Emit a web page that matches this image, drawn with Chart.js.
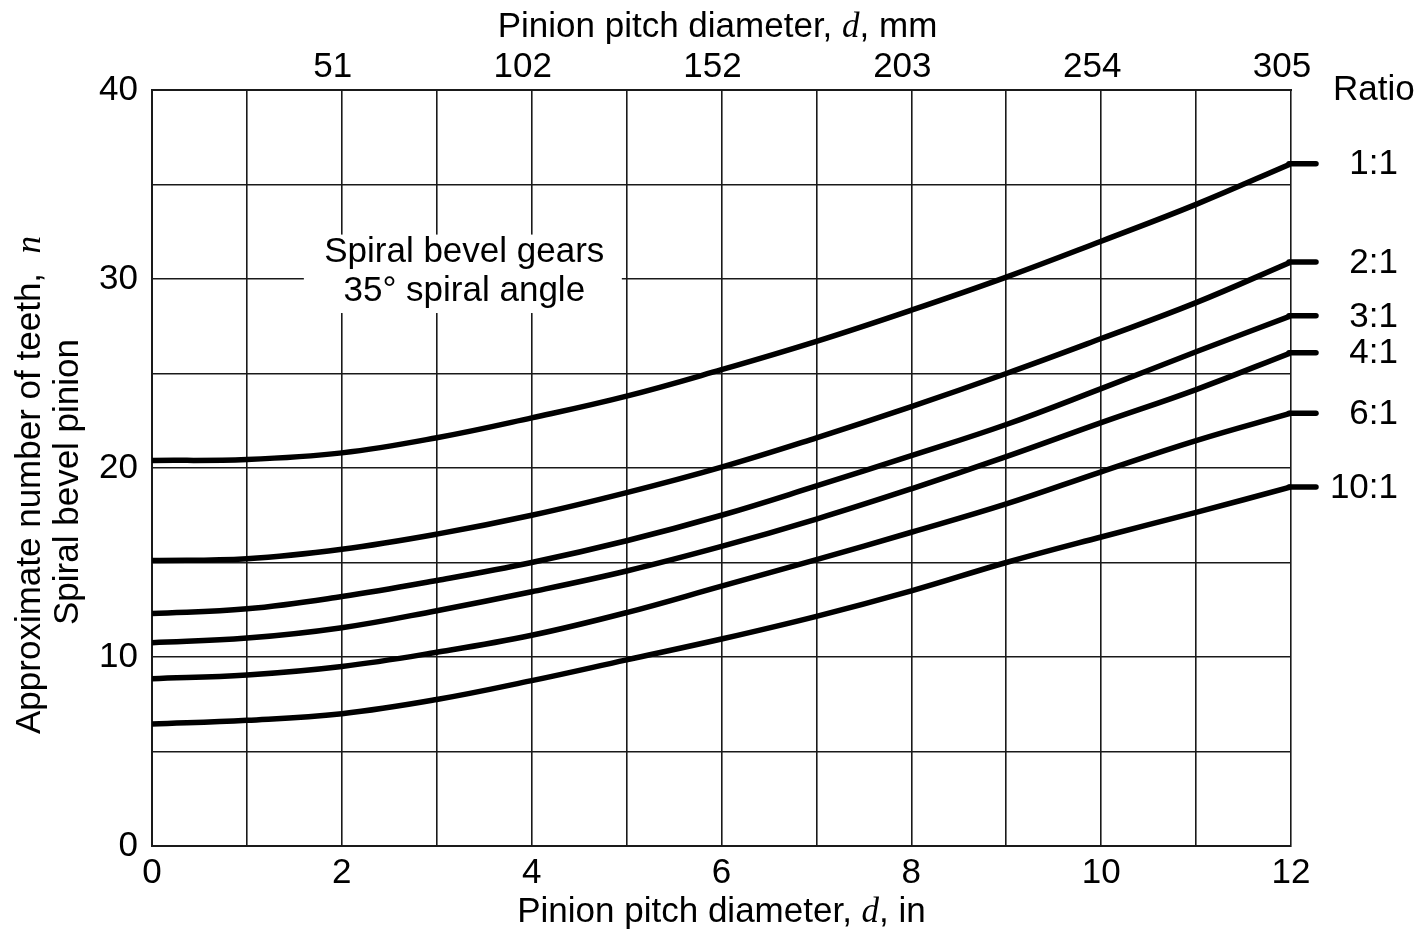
<!DOCTYPE html>
<html>
<head>
<meta charset="utf-8">
<title>Spiral bevel pinion teeth</title>
<script src="https://cdn.jsdelivr.net/npm/chart.js@4.4.1/dist/chart.umd.min.js"></script>
<style>
  html, body { margin: 0; padding: 0; background: #fff; }
  #wrap { width: 1425px; height: 930px; }
</style>
</head>
<body>
<div id="wrap"><canvas id="gearChart" width="1425" height="930"></canvas></div>
<script>
// pinion pitch diameter, in
const diameterIn = [0, 1, 2, 3, 4, 5, 6, 7, 8, 9, 10, 11, 12];

const ratioLabels = ["1:1", "2:1", "3:1", "4:1", "6:1", "10:1"];

// approximate number of teeth for each gear ratio
const teeth1to1 = [20.4, 20.45, 20.8, 21.6, 22.65, 23.8, 25.2, 26.7, 28.35, 30.1, 32.0, 33.95, 36.1];
const teeth2to1 = [15.1, 15.2, 15.7, 16.5, 17.5, 18.7, 20.05, 21.6, 23.25, 25.0, 26.85, 28.75, 30.9];
const teeth3to1 = [12.3, 12.55, 13.2, 14.05, 15.0, 16.15, 17.5, 19.05, 20.65, 22.3, 24.2, 26.15, 28.05];
const teeth4to1 = [10.75, 11.0, 11.55, 12.45, 13.45, 14.55, 15.85, 17.3, 18.9, 20.6, 22.4, 24.15, 26.1];
const teeth6to1 = [8.85, 9.05, 9.5, 10.25, 11.15, 12.35, 13.75, 15.15, 16.6, 18.1, 19.8, 21.45, 22.9];
const teeth10to1 = [6.45, 6.65, 7.0, 7.75, 8.75, 9.85, 10.95, 12.15, 13.5, 15.0, 16.35, 17.65, 19.0];

// tick labels
const xTickLabels = [0, 2, 4, 6, 8, 10, 12];
const yTickLabels = [0, 10, 20, 30, 40];
const mmTickInches = [2, 4, 6, 8, 10, 12];
const mmTickLabels = ["51", "102", "152", "203", "254", "305"];

const noteLines = ["Spiral bevel gears", "35\u00b0 spiral angle"];

const allTeeth = [teeth1to1, teeth2to1, teeth3to1, teeth4to1, teeth6to1, teeth10to1];

/* ---------- helpers ---------- */
const SANS = '"Liberation Sans", Arial, Helvetica, sans-serif';
const FS = 35;
const sansFont = `${FS}px ${SANS}`;
const italicFont = `italic ${FS}px "Liberation Serif", "DejaVu Serif", serif`;

// draws mixed sans / italic serif text centred on x, on a given baseline
function drawRich(ctx, parts, cx, baseline) {
    ctx.textBaseline = "alphabetic";
    ctx.textAlign = "left";
    let total = 0;
    parts.forEach(p => { ctx.font = p.font; total += ctx.measureText(p.text).width; });
    let x = cx - total / 2;
    parts.forEach(p => {
        ctx.font = p.font;
        ctx.fillText(p.text, x, baseline);
        x += ctx.measureText(p.text).width;
    });
}

const gearDecor = {
    id: "gearDecor",
    beforeDatasetsDraw(chart) {
        // white box behind the note so the grid is hidden there
        const { ctx, scales: { x, y } } = chart;
        const x0 = x.getPixelForValue(1.6), x1 = x.getPixelForValue(4.95);
        const y0 = y.getPixelForValue(32.35), y1 = y.getPixelForValue(28.2);
        ctx.save();
        ctx.fillStyle = "#fff";
        ctx.fillRect(x0, y0, x1 - x0, y1 - y0);
        ctx.fillStyle = "#000";
        ctx.font = sansFont;
        ctx.textAlign = "center";
        ctx.textBaseline = "alphabetic";
        ctx.fillText(noteLines[0], x.getPixelForValue(3.29), y.getPixelForValue(30.88));
        ctx.fillText(noteLines[1], x.getPixelForValue(3.29), y.getPixelForValue(28.82));
        ctx.restore();
    },
    afterDraw(chart) {
        const { ctx, chartArea: area, scales: { y } } = chart;
        ctx.save();
        ctx.fillStyle = "#000";
        ctx.strokeStyle = "#000";

        // stubs + ratio labels at right
        ctx.lineWidth = 5.5;
        ctx.lineCap = "round";
        ctx.font = sansFont;
        chart.data.datasets.forEach(ds => {
            const last = ds.data[ds.data.length - 1];
            const py = y.getPixelForValue(last.y);
            ctx.beginPath();
            ctx.moveTo(area.right - 2, py);
            ctx.lineTo(area.right + 25, py);
            ctx.stroke();
            ctx.textAlign = "right";
            ctx.textBaseline = "middle";
            ctx.fillText(ds.label, area.right + 107, py + 1);
        });
        ctx.textAlign = "left";
        ctx.textBaseline = "middle";
        ctx.fillText("Ratio", area.right + 42, area.top);

        // axis titles
        const cx = (area.left + area.right) / 2;
        drawRich(ctx, [
            { text: "Pinion pitch diameter, ", font: sansFont },
            { text: "d", font: italicFont },
            { text: ", in", font: sansFont },
        ], cx, 922);
        drawRich(ctx, [
            { text: "Pinion pitch diameter, ", font: sansFont },
            { text: "d", font: italicFont },
            { text: ", mm", font: sansFont },
        ], cx - 4, 37);

        ctx.save();
        ctx.translate(40, 485);
        ctx.rotate(-Math.PI / 2);
        drawRich(ctx, [
            { text: "Approximate number of teeth,  ", font: sansFont },
            { text: "n", font: italicFont },
        ], 0, 0);
        ctx.restore();
        ctx.save();
        ctx.translate(78, 482);
        ctx.rotate(-Math.PI / 2);
        drawRich(ctx, [{ text: "Spiral bevel pinion", font: sansFont }], 0, 0);
        ctx.restore();

        ctx.restore();
    },
};

/* ---------- chart ---------- */
const ctx = document.getElementById("gearChart").getContext("2d");

const datasets = allTeeth.map((vals, i) => ({
    label: ratioLabels[i],
    data: diameterIn.map((d, j) => ({ x: d, y: vals[j] })),
    borderColor: "#000",
    borderWidth: 5.5,
    pointRadius: 0,
    tension: 0.4,
    fill: false,
}));

const gridColor = "#1a1a1a";

new Chart(ctx, {
    type: "line",
    data: { datasets },
    plugins: [gearDecor],
    options: {
        responsive: false,
        animation: false,
        devicePixelRatio: 1,
        layout: { padding: { left: 0, right: 134, top: 0, bottom: 0 } },
        plugins: {
            legend: { display: false },
            tooltip: { enabled: false },
        },
        scales: {
            x: {
                type: "linear",
                position: "bottom",
                min: 0,
                max: 12,
                afterFit: s => { s.height = 84; },
                ticks: {
                    stepSize: 1,
                    color: "#000",
                    font: { family: SANS, size: FS },
                    padding: 6,
                    maxRotation: 0,
                    autoSkip: false,
                    callback: v => (xTickLabels.includes(v) ? String(v) : ""),
                },
                grid: { color: gridColor, lineWidth: 1.6, drawTicks: false },
                border: { color: gridColor, width: 2 },
            },
            x2: {
                type: "linear",
                position: "top",
                min: 0,
                max: 12,
                afterFit: s => { s.height = 90; },
                ticks: {
                    stepSize: 2,
                    color: "#000",
                    font: { family: SANS, size: FS },
                    padding: 2,
                    labelOffset: -9,
                    maxRotation: 0,
                    autoSkip: false,
                    callback: v => {
                        const i = mmTickInches.indexOf(v);
                        return i >= 0 ? mmTickLabels[i] : "";
                    },
                },
                grid: { display: false, drawTicks: false },
                border: { color: gridColor, width: 2 },
            },
            y: {
                min: 0,
                max: 40,
                afterFit: s => { s.width = 152; },
                ticks: {
                    stepSize: 5,
                    color: "#000",
                    font: { family: SANS, size: FS },
                    padding: 14,
                    autoSkip: false,
                    callback: v => (yTickLabels.includes(v) ? String(v) : ""),
                },
                grid: { color: gridColor, lineWidth: 1.6, drawTicks: false },
                border: { color: gridColor, width: 2 },
            },
        },
    },
});
</script>
</body>
</html>
